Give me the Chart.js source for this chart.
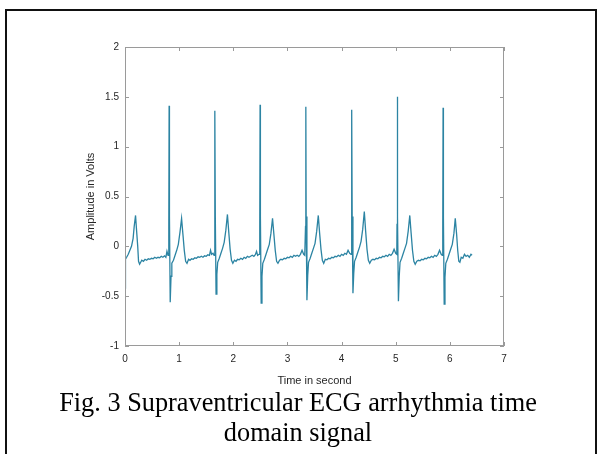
<!DOCTYPE html>
<html>
<head>
<meta charset="utf-8">
<script src="https://cdn.jsdelivr.net/npm/chart.js@4.4.1/dist/chart.umd.min.js"></script>
<style>
  html, body { margin: 0; padding: 0; background: #fff; }
  #wrap { width: 598px; height: 454px; position: relative; }
</style>
</head>
<body>
<div id="wrap"><canvas id="ecg" width="598" height="454"></canvas></div>
<script>
// tick labels
const xTicks = [0, 1, 2, 3, 4, 5, 6, 7];
const yTicks = [-1, -0.5, 0, 0.5, 1, 1.5, 2];

// signal, [time (s), amplitude (V)]
const lead = [[0.000,-0.42],[0.005,-0.25],[0.012,-0.13],[0.03,-0.11],[0.06,-0.08],[0.09,-0.04],[0.12,0.00],[0.15,0.08],[0.17,0.20],[0.195,0.31],[0.215,0.15],[0.235,0.00],[0.25,-0.15],[0.27,-0.18],[0.29,-0.16],[0.31,-0.14],[0.34,-0.15],[0.37,-0.13],[0.40,-0.14],[0.43,-0.125],[0.46,-0.13],[0.49,-0.12],[0.52,-0.125],[0.55,-0.11],[0.58,-0.12],[0.61,-0.11],[0.64,-0.115],[0.67,-0.10],[0.70,-0.11],[0.73,-0.095],[0.755,-0.11],[0.775,-0.05],[0.795,-0.09]];
const beat1 = [[0.809,0.20],[0.815,1.41],[0.821,0.30],[0.835,-0.56],[0.850,-0.30],[0.865,-0.17],[0.895,-0.14],[0.925,-0.09],[0.955,-0.04],[0.985,0.02],[1.015,0.14],[1.045,0.28],[1.070,0.12],[1.095,-0.04],[1.120,-0.15],[1.145,-0.17],[1.175,-0.13],[1.20,-0.14],[1.23,-0.125],[1.26,-0.13],[1.29,-0.115],[1.32,-0.12],[1.35,-0.105],[1.38,-0.11],[1.41,-0.10],[1.44,-0.11],[1.47,-0.095],[1.50,-0.10],[1.53,-0.085],[1.56,-0.09],[1.58,-0.04],[1.60,-0.08],[1.625,-0.07],[1.645,-0.09]];
const beat2 = [[1.656,0.15],[1.662,1.36],[1.668,0.30],[1.682,-0.48],[1.697,-0.28],[1.712,-0.16],[1.742,-0.12],[1.772,-0.07],[1.802,-0.02],[1.832,0.04],[1.862,0.16],[1.892,0.32],[1.917,0.14],[1.942,-0.03],[1.967,-0.14],[1.992,-0.17],[2.022,-0.14],[2.05,-0.15],[2.08,-0.13],[2.11,-0.135],[2.14,-0.12],[2.17,-0.13],[2.20,-0.11],[2.23,-0.12],[2.26,-0.10],[2.29,-0.11],[2.32,-0.10],[2.35,-0.09],[2.38,-0.10],[2.41,-0.08],[2.43,-0.05],[2.45,-0.09],[2.475,-0.08]];
const beat3 = [[2.489,0.20],[2.495,1.42],[2.501,0.30],[2.515,-0.57],[2.530,-0.30],[2.545,-0.17],[2.575,-0.13],[2.605,-0.08],[2.635,-0.03],[2.665,0.02],[2.695,0.13],[2.725,0.28],[2.750,0.12],[2.775,-0.04],[2.800,-0.15],[2.825,-0.17],[2.855,-0.14],[2.88,-0.13],[2.91,-0.135],[2.94,-0.12],[2.97,-0.125],[3.00,-0.11],[3.03,-0.115],[3.06,-0.10],[3.09,-0.11],[3.12,-0.09],[3.15,-0.10],[3.18,-0.09],[3.21,-0.10],[3.24,-0.08],[3.27,-0.04],[3.30,-0.08],[3.32,-0.09]];
const beat4 = [[3.334,0.20],[3.340,1.40],[3.346,0.30],[3.360,-0.54],[3.375,-0.29],[3.390,-0.16],[3.420,-0.12],[3.450,-0.07],[3.480,-0.02],[3.510,0.03],[3.540,0.15],[3.570,0.31],[3.595,0.13],[3.620,-0.03],[3.645,-0.14],[3.670,-0.17],[3.700,-0.13],[3.73,-0.135],[3.76,-0.12],[3.79,-0.125],[3.82,-0.11],[3.85,-0.115],[3.88,-0.10],[3.91,-0.105],[3.94,-0.09],[3.97,-0.10],[4.00,-0.08],[4.03,-0.09],[4.06,-0.07],[4.09,-0.08],[4.12,-0.04],[4.15,-0.07],[4.175,-0.08]];
const beat5 = [[4.184,0.18],[4.190,1.37],[4.196,0.30],[4.210,-0.47],[4.225,-0.27],[4.240,-0.15],[4.270,-0.11],[4.300,-0.06],[4.330,-0.01],[4.360,0.05],[4.390,0.17],[4.420,0.35],[4.445,0.15],[4.470,-0.03],[4.495,-0.14],[4.520,-0.17],[4.550,-0.14],[4.58,-0.13],[4.61,-0.135],[4.64,-0.12],[4.67,-0.125],[4.70,-0.11],[4.73,-0.115],[4.76,-0.10],[4.79,-0.105],[4.82,-0.09],[4.85,-0.10],[4.88,-0.08],[4.91,-0.09],[4.94,-0.07],[4.97,-0.03],[5.00,-0.07],[5.02,-0.08]];
const beat6 = [[5.024,0.22],[5.030,1.50],[5.036,0.30],[5.050,-0.55],[5.065,-0.30],[5.080,-0.16],[5.110,-0.12],[5.140,-0.07],[5.170,-0.02],[5.200,0.03],[5.230,0.15],[5.260,0.31],[5.285,0.13],[5.310,-0.04],[5.335,-0.15],[5.360,-0.18],[5.390,-0.15],[5.42,-0.14],[5.45,-0.145],[5.48,-0.13],[5.51,-0.135],[5.54,-0.12],[5.57,-0.125],[5.60,-0.11],[5.63,-0.115],[5.66,-0.10],[5.69,-0.11],[5.72,-0.09],[5.75,-0.10],[5.78,-0.08],[5.81,-0.04],[5.84,-0.08],[5.86,-0.09]];
const beat7 = [[5.869,0.20],[5.875,1.39],[5.881,0.30],[5.895,-0.58],[5.910,-0.31],[5.925,-0.17],[5.955,-0.13],[5.985,-0.08],[6.015,-0.03],[6.045,0.02],[6.075,0.13],[6.100,0.28],[6.125,0.12],[6.145,-0.04],[6.165,-0.15],[6.185,-0.16],[6.21,-0.11],[6.24,-0.12],[6.27,-0.08],[6.30,-0.10],[6.33,-0.09],[6.36,-0.11],[6.39,-0.08],[6.41,-0.09]];

const caption1 = "Fig. 3 Supraventricular ECG arrhythmia time";
const caption2 = "domain signal";

const signal = [].concat(lead, beat1, beat2, beat3, beat4, beat5, beat6, beat7)
  .map(p => ({ x: p[0], y: p[1] }));

const axisGray = "#9a9a9a";
const labelColor = "#262626";
const sansFont = "'Liberation Sans', Arial, sans-serif";

// box, inward ticks, axis titles, caption and frame
const decorations = {
  id: "decorations",
  afterDraw(chart) {
    const ctx = chart.ctx;
    const a = chart.chartArea;
    const xs = chart.scales.x, ys = chart.scales.y;
    ctx.save();

    ctx.strokeStyle = axisGray;
    ctx.lineWidth = 1;
    ctx.strokeRect(a.left + 0.5, a.top + 0.5, a.right - a.left - 1, a.bottom - a.top - 1);

    ctx.beginPath();
    xTicks.forEach(t => {
      const px = Math.round(xs.getPixelForValue(t)) + 0.5;
      ctx.moveTo(px, a.bottom); ctx.lineTo(px, a.bottom - 4);
      ctx.moveTo(px, a.top); ctx.lineTo(px, a.top + 4);
    });
    yTicks.forEach(t => {
      const py = Math.round(ys.getPixelForValue(t)) + 0.5;
      ctx.moveTo(a.left, py); ctx.lineTo(a.left + 4, py);
      ctx.moveTo(a.right, py); ctx.lineTo(a.right - 4, py);
    });
    ctx.stroke();

    ctx.fillStyle = labelColor;
    ctx.font = "11px " + sansFont;
    ctx.textAlign = "center";
    ctx.textBaseline = "middle";
    ctx.fillText("Time in second", (a.left + a.right) / 2, 381);
    ctx.save();
    ctx.translate(91, (a.top + a.bottom) / 2);
    ctx.rotate(-Math.PI / 2);
    ctx.fillText("Amplitude in Volts", 0, 0);
    ctx.restore();

    // caption, sized to the width of the printed line
    let size = 24;
    ctx.font = size + "px 'Liberation Serif', 'Times New Roman', serif";
    const w = ctx.measureText(caption1).width;
    size = size * 478 / w;
    ctx.font = size.toFixed(1) + "px 'Liberation Serif', 'Times New Roman', serif";
    ctx.fillStyle = "#000";
    ctx.textBaseline = "alphabetic";
    ctx.fillText(caption1, 298, 411);
    ctx.fillText(caption2, 298, 441);

    ctx.strokeStyle = "#111";
    ctx.lineWidth = 2;
    ctx.beginPath();
    ctx.moveTo(6, 460); ctx.lineTo(6, 10); ctx.lineTo(596, 10); ctx.lineTo(596, 460);
    ctx.stroke();

    ctx.restore();
  }
};

new Chart(document.getElementById("ecg"), {
  type: "line",
  data: {
    datasets: [{
      data: signal,
      borderColor: "#2c84a3",
      borderWidth: 1.3,
      pointRadius: 0,
      tension: 0,
      fill: false
    }]
  },
  options: {
    responsive: false,
    animation: false,
    events: [],
    layout: { padding: { top: 47, right: 94, bottom: 0, left: 0 } },
    plugins: { legend: { display: false }, tooltip: { enabled: false } },
    scales: {
      x: {
        type: "linear",
        min: 0, max: 7,
        afterFit: s => { s.height = 108; },
        afterBuildTicks: s => { s.ticks = xTicks.map(v => ({ value: v })); },
        grid: { display: false, drawTicks: false },
        border: { display: false },
        ticks: { color: labelColor, font: { size: 10, family: sansFont }, padding: 7, maxRotation: 0, callback: v => String(v) }
      },
      y: {
        min: -1, max: 2,
        afterFit: s => { s.width = 125; },
        afterBuildTicks: s => { s.ticks = yTicks.map(v => ({ value: v })); },
        grid: { display: false, drawTicks: false },
        border: { display: false },
        ticks: { color: labelColor, font: { size: 10, family: sansFont }, padding: 6, callback: v => String(v) }
      }
    }
  },
  plugins: [decorations]
});
</script>
</body>
</html>
